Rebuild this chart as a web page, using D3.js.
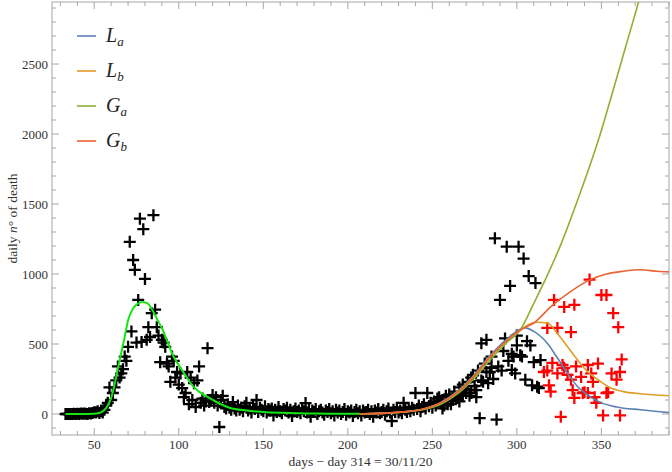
<!DOCTYPE html>
<html><head><meta charset="utf-8">
<script src="https://cdn.jsdelivr.net/npm/d3@7"></script>
<style>body{margin:0;background:#fff}svg{display:block}</style>
</head><body>
<svg id="c" width="672" height="472"></svg>
<script>
// ---------- data ----------
const blackStart = 33;
const blackVals = [
 0,0,0,0,0,1,0,2,0,3,1,4,2,0,5,3,8,12,10,20,            // 33-52
 7,20,10,30,60,80,190,100,150,190,240,340,260,290,320,410,380,480, // 53-70
 1230,590,1100,1030,510,815,1395,515,1320,965,530,620,550,720,1420,745, // 71-86
 620,560,370,530,510,480,360,340,230,410,380,260,300,210,290,185, // 87-102
 120,150,300,70,260,100,220,50,240,340,80,110,60,90,470,85,95,135,80,120, // 103-122
 60,-93,100,130,50,40,70,45,30,85,40,25, // 123-134
 60,30,45,20,55,80,25,40,10,50,35,100,15,45,30,20, // 135-150
 55,10,35,25,40,-10,30,15,50,20,5,35,25,45,10,30,-15,20,40,15, // 151-170
 25,5,35,20,78,10,30,-20,25,15,35,0,20,30,10,-5,25,15,35,5, // 171-190
 20,-10,30,10,25,0,15,35,-5,20,10,25,-15,15,30,5,20,-10,25,10, // 191-210
 15,30,0,20,-20,25,10,35,5,15,30,-5,20,40,10,-50,30,15,45, // 211-229
 10,25,5,80,30,15,40,20,45,30,150,35,60,20,50,70,40,150,55,80, // 230-249
 45,90,60,110,120,75,100,60,130,90,140,70,100,160,120,115,190,140,210,170, // 250-269
 150,230,130,260,280,200,120,310,-30,505,230,360,530,220,300,410,250,1255,-40,340, // 270-289
 815,310,450,540,1195,380,915,315,410,290,490,1195,420,410,1110,245,520,985,490,205, // 290-309
 370,935,195,185,385 // 310-314
];
const extraDays = [256,259,262,266,268,270,273,276,279,282,285,297,300];
const extraVals = [40,70,110,90,130,180,150,170,240,300,330,430,560];

const redDays = [316,318,318,319,320,321,322,324,324,326,327,328,328,330,332,332,333,334,334,335,338,339,340,342,342,343,344,345,346,347,348,350,351,353,353,354,356,357,359,360,361,361,362];
const redVals = [300,310,615,205,160,365,815,615,290,-20,350,765,330,280,585,245,170,780,115,340,265,150,155,350,150,960,290,230,120,80,360,850,-10,850,150,155,290,720,245,620,300,-10,390];

// fitted curves
const wave1Days = [33,40,45,48,50,52,54,56,58,60,62,65,68,70,73,76,78.5,81.5,84.5,87.5,90.5,93.5,96.5,100.5,104.5,108,112,118,124,130,140,150,160,170,180,190,200,207];
const wave1Vals = [0,0,0,1,2,5,12,28,60,115,210,385,550,670,755,790,800,790,740,670,600,510,420,340,265,205,160,115,75,45,25,15,9,5,3,2,1,1];

const laDays = [207,215,225,235,245,255,265,274,284,294,302,305,310,318,324,330,336,342,349,359,373,390];
const laVals = [1,3,8,18,38,82,165,270,415,535,605,615,590,505,400,290,195,135,85,50,30,10];
const lbDays = [207,215,225,235,245,255,265,274,284,294,302,307,312,318,324,330,336,342,348,354,363,373,390];
const lbVals = [1,3,8,17,36,78,158,262,405,522,595,640,655,650,575,480,385,300,245,195,160,145,130];
const gaDays = [207,215,225,235,245,255,265,274,284,294,302,310,318,326,336,349.5,357,365,372,376];
const gaVals = [1,3,7,16,33,70,145,245,385,510,600,790,990,1210,1530,2005,2315,2650,2943,3120];
const gbDays = [207,215,225,235,245,255,265,274,284,294,302,310,320,333,343.5,353,363,373,383,390];
const gbVals = [1,3,8,17,36,78,158,262,405,525,600,650,765,885,960,1000,1020,1030,1020,1015];

const legendNames = [["L","a"],["L","b"],["G","a"],["G","b"]];
const xTicks = [50,100,150,200,250,300,350];
const yTicks = [0,500,1000,1500,2000,2500];

// ---------- chart ----------
const svg = d3.select("#c");
const L = 52, R = 669, T = 2, B = 435;
const x = d3.scaleLinear().domain([25, 390]).range([L, R]);
const y = d3.scaleLinear().domain([-150, 2943]).range([B, T]);
const font = "'Liberation Serif', 'Times New Roman', serif";

svg.append("defs").append("clipPath").attr("id","clip")
  .append("rect").attr("x",L).attr("y",T).attr("width",R-L).attr("height",B-T);

// frame
const frameCol = "#a6a6a6";
svg.append("rect").attr("x",L).attr("y",T).attr("width",R-L).attr("height",B-T)
  .attr("fill","none").attr("stroke",frameCol).attr("stroke-width",1);

const gTicks = svg.append("g").attr("stroke",frameCol).attr("stroke-width",1);
const xMinor = d3.range(30, 391, 10);
xMinor.forEach(v => {
  const major = v % 50 === 0, len = major ? 7 : 4;
  gTicks.append("line").attr("x1",x(v)).attr("x2",x(v)).attr("y1",B).attr("y2",B-len);
  gTicks.append("line").attr("x1",x(v)).attr("x2",x(v)).attr("y1",T).attr("y2",T+len);
});
const yMinor = d3.range(-100, 2901, 100);
yMinor.forEach(v => {
  const major = v % 500 === 0, len = major ? 7 : 4;
  gTicks.append("line").attr("y1",y(v)).attr("y2",y(v)).attr("x1",L).attr("x2",L+len);
  gTicks.append("line").attr("y1",y(v)).attr("y2",y(v)).attr("x1",R).attr("x2",R-len);
});

svg.append("g").selectAll("text").data(xTicks).join("text")
  .attr("x", d => x(d)).attr("y", 449).attr("text-anchor","middle")
  .attr("font-family",font).attr("font-size",13).attr("fill","#333").text(d => d);
svg.append("g").selectAll("text").data(yTicks).join("text")
  .attr("x", 48).attr("y", d => y(d) + 4.5).attr("text-anchor","end")
  .attr("font-family",font).attr("font-size",13).attr("fill","#333").text(d => d);

// axis labels
svg.append("text").attr("x",(L+R)/2).attr("y",466).attr("text-anchor","middle")
  .attr("font-family",font).attr("font-size",13.5).attr("fill","#333")
  .text("days \u2212 day 314 = 30/11/20");
const yl = svg.append("text").attr("transform",`translate(17,${(T+B)/2}) rotate(-90)`)
  .attr("text-anchor","middle").attr("font-family",font).attr("font-size",13.5).attr("fill","#333");
yl.append("tspan").text("daily ");
yl.append("tspan").attr("font-style","italic").text("n");
yl.append("tspan").text("\u00B0 of death");

// points
const plot = svg.append("g").attr("clip-path","url(#clip)");
const cross = "M-6,0H6M0,-6V6";
const blackPts = blackVals.map((v,i) => [blackStart + i, v])
  .concat(extraDays.map((d,i) => [d, extraVals[i]]));
plot.append("g").selectAll("path").data(blackPts).join("path")
  .attr("d",cross).attr("transform", d => `translate(${x(d[0])},${y(d[1])})`)
  .attr("stroke","#000").attr("stroke-width",2.3).attr("fill","none");
plot.append("g").selectAll("path").data(redDays.map((d,i)=>[d, redVals[i]])).join("path")
  .attr("d",cross).attr("transform", d => `translate(${x(d[0])},${y(d[1])})`)
  .attr("stroke","#ff0000").attr("stroke-width",2.3).attr("fill","none");

// curves
const line = d3.line().x(d => x(d[0])).y(d => y(d[1])).curve(d3.curveMonotoneX);
const curves = [
  {days: wave1Days, vals: wave1Vals, col: "#14e614", w: 2},
  {days: laDays, vals: laVals, col: "#5e81b5", w: 1.6},
  {days: lbDays, vals: lbVals, col: "#e19c24", w: 1.6},
  {days: gaDays, vals: gaVals, col: "#8fb131", w: 1.6},
  {days: gbDays, vals: gbVals, col: "#eb6235", w: 1.6}
];
curves.forEach(c => {
  plot.append("path").datum(c.days.map((d,i)=>[d, c.vals[i]]))
    .attr("d", line).attr("fill","none").attr("stroke", c.col).attr("stroke-width", c.w);
});

// legend
const legCols = ["#5e81b5","#e19c24","#8fb131","#eb6235"];
const legY = [36,71,106,141];
legendNames.forEach((n,i) => {
  svg.append("line").attr("x1",77).attr("x2",96).attr("y1",legY[i]).attr("y2",legY[i])
    .attr("stroke",legCols[i]).attr("stroke-width",1.6);
  const t = svg.append("text").attr("x",106).attr("y",legY[i]+6)
    .attr("font-family",font).attr("font-size",20).attr("font-style","italic").attr("fill","#222");
  t.append("tspan").text(n[0]);
  t.append("tspan").attr("font-size",13).attr("dy",4).text(n[1]);
});
</script>
</body></html>
